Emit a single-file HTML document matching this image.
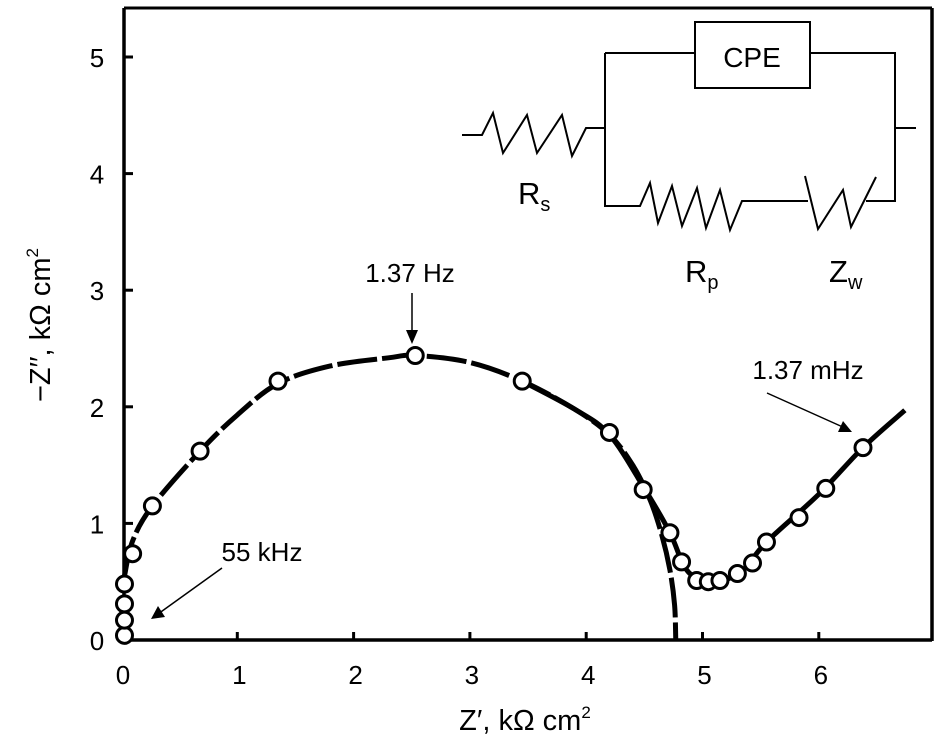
<!DOCTYPE html>
<html><head><meta charset="utf-8"><style>
html,body{margin:0;padding:0;background:#fff;}
svg{display:block;font-family:"Liberation Sans",sans-serif;}
</style></head><body>
<svg id="chart" width="946" height="750" viewBox="0 0 946 750">
<g id="frame">
<line x1="124" y1="8" x2="932" y2="8" stroke="#000" stroke-width="3"/>
<line x1="932" y1="8" x2="932" y2="641" stroke="#000" stroke-width="3.5"/>
<line x1="124" y1="8" x2="124" y2="641" stroke="#000" stroke-width="3.5"/>
<line x1="122" y1="640" x2="932" y2="640" stroke="#000" stroke-width="3.5"/>
</g>
<g id="xticks"></g>
<g id="yticks"></g>
<g id="fit"></g>
<g id="pts"></g>
<text x="525" y="730" font-size="29" text-anchor="middle">Z′, kΩ cm<tspan font-size="17" dy="-12">2</tspan></text>
<text transform="translate(50,325) rotate(-90)" font-size="29" text-anchor="middle">−Z′′, kΩ cm<tspan font-size="17" dy="-12">2</tspan></text>
<g>
<text x="410" y="282" font-size="26" text-anchor="middle">1.37 Hz</text>
<line x1="412" y1="293" x2="412" y2="335" stroke="#000" stroke-width="1.5"/>
<polygon points="406,330 418,330 412,344" fill="#000"/>
</g>
<g>
<text x="808" y="379" font-size="26" text-anchor="middle">1.37 mHz</text>
<line x1="767" y1="393" x2="845" y2="428" stroke="#000" stroke-width="1.5"/>
<polygon points="852,432 838,432 843,421" fill="#000"/>
</g>
<g>
<text x="262" y="561" font-size="26" text-anchor="middle">55 kHz</text>
<line x1="222" y1="568" x2="158" y2="614" stroke="#000" stroke-width="1.5"/>
<polygon points="151,619 158,606 165,617" fill="#000"/>
</g>
<g fill="none" stroke="#000" stroke-width="2">
<polyline points="462,135 482,135 493,113 503,153 527,115 537,153 562,115 572,156 586,128 605,128"/>
<polyline points="605,53 605,206 640,206 650,183 658,223 672,186 682,226 697,188 706,228 720,190 730,230 742,201 808,201"/>
<polyline points="805,176 818,229 843,190 851,227 876,177"/>
<polyline points="866,201 895,201 895,53 810,53"/>
<line x1="605" y1="53" x2="695" y2="53"/>
<rect x="695" y="22" width="115" height="66"/>
<line x1="895" y1="128" x2="916" y2="128"/>
</g>
<text x="752" y="67" font-size="28" text-anchor="middle">CPE</text>
<text x="518" y="204" font-size="31">R<tspan font-size="20" dy="7">s</tspan></text>
<text x="685" y="282" font-size="31">R<tspan font-size="20" dy="7">p</tspan></text>
<text x="829" y="282" font-size="31">Z<tspan font-size="20" dy="7">w</tspan></text>
</svg>
<script>
const xTicks=[0,1,2,3,4,5,6];
const yTicks=[0,1,2,3,4,5];
const dataX=[0.03,0.03,0.03,0.03,0.10,0.27,0.68,1.35,2.53,3.45,4.20,4.49,4.72,4.82,4.95,5.05,5.15,5.30,5.43,5.55,5.83,6.06,6.38];
const dataY=[0.04,0.17,0.31,0.48,0.74,1.15,1.62,2.22,2.44,2.22,1.78,1.29,0.92,0.67,0.51,0.50,0.51,0.57,0.66,0.84,1.05,1.30,1.65];
const fitX=[0.03,0.10,0.27,0.68,1.0,1.35,1.8,2.3,2.53,3.0,3.45,3.9,4.2,4.4,4.55,4.65,4.72,4.76,4.77];
const fitY=[0.55,0.85,1.15,1.62,1.93,2.20,2.35,2.42,2.44,2.38,2.22,1.98,1.76,1.50,1.20,0.90,0.60,0.30,0.0];
const expX=[3.45,3.9,4.2,4.5,4.72,4.85,5.0,5.15,5.35,5.55,6.0,6.38,6.74];
const expY=[2.22,1.98,1.76,1.30,0.92,0.62,0.50,0.50,0.60,0.84,1.25,1.65,1.97];
const NS='http://www.w3.org/2000/svg';
function sx(v){return 121+v*116.3;}
function sy(v){return 640-v*116.6;}
function mk(tag,attrs,parent){const e=document.createElementNS(NS,tag);for(const k in attrs)e.setAttribute(k,attrs[k]);parent.appendChild(e);return e;}
function smooth(xs,ys){
  const p=xs.map((v,i)=>[sx(v),sy(ys[i])]);
  let d='M'+p[0][0]+','+p[0][1];
  for(let i=0;i<p.length-1;i++){
    const p0=p[i-1]||p[i],p1=p[i],p2=p[i+1],p3=p[i+2]||p2;
    const c1=[p1[0]+(p2[0]-p0[0])/6,p1[1]+(p2[1]-p0[1])/6];
    const c2=[p2[0]-(p3[0]-p1[0])/6,p2[1]-(p3[1]-p1[1])/6];
    d+='C'+c1[0]+','+c1[1]+' '+c2[0]+','+c2[1]+' '+p2[0]+','+p2[1];
  }
  return d;
}
const gx=document.getElementById('xticks'),gy=document.getElementById('yticks');
xTicks.forEach(t=>{
  if(t>0){const l=mk('line',{x1:sx(t),y1:640,x2:sx(t),y2:632,stroke:'#000','stroke-width':3},gx);
  
  }
  const tx=mk('text',{x:sx(t)+2,y:684,'font-size':26,'text-anchor':'middle'},gx);tx.textContent=t;
  
  
});
yTicks.forEach(t=>{
  if(t>0){const l=mk('line',{x1:124,y1:sy(t),x2:133,y2:sy(t),stroke:'#000','stroke-width':3},gy);
  
  }
  const tx=mk('text',{x:97,y:sy(t)+10,'font-size':26,'text-anchor':'middle'},gy);tx.textContent=t;
  
  
});
const gf=document.getElementById('fit');
const p1=mk('path',{d:smooth(fitX,fitY),fill:'none',stroke:'#000','stroke-width':5,'stroke-dasharray':'40,5'},gf);


const p2=mk('path',{d:smooth(expX,expY),fill:'none',stroke:'#000','stroke-width':5},gf);


const gp=document.getElementById('pts');
dataX.forEach((v,i)=>{
  const c=mk('circle',{cx:sx(v),cy:sy(dataY[i]),r:8,fill:'#fff',stroke:'#000','stroke-width':3},gp);
  
  
});
</script>
</body></html>
